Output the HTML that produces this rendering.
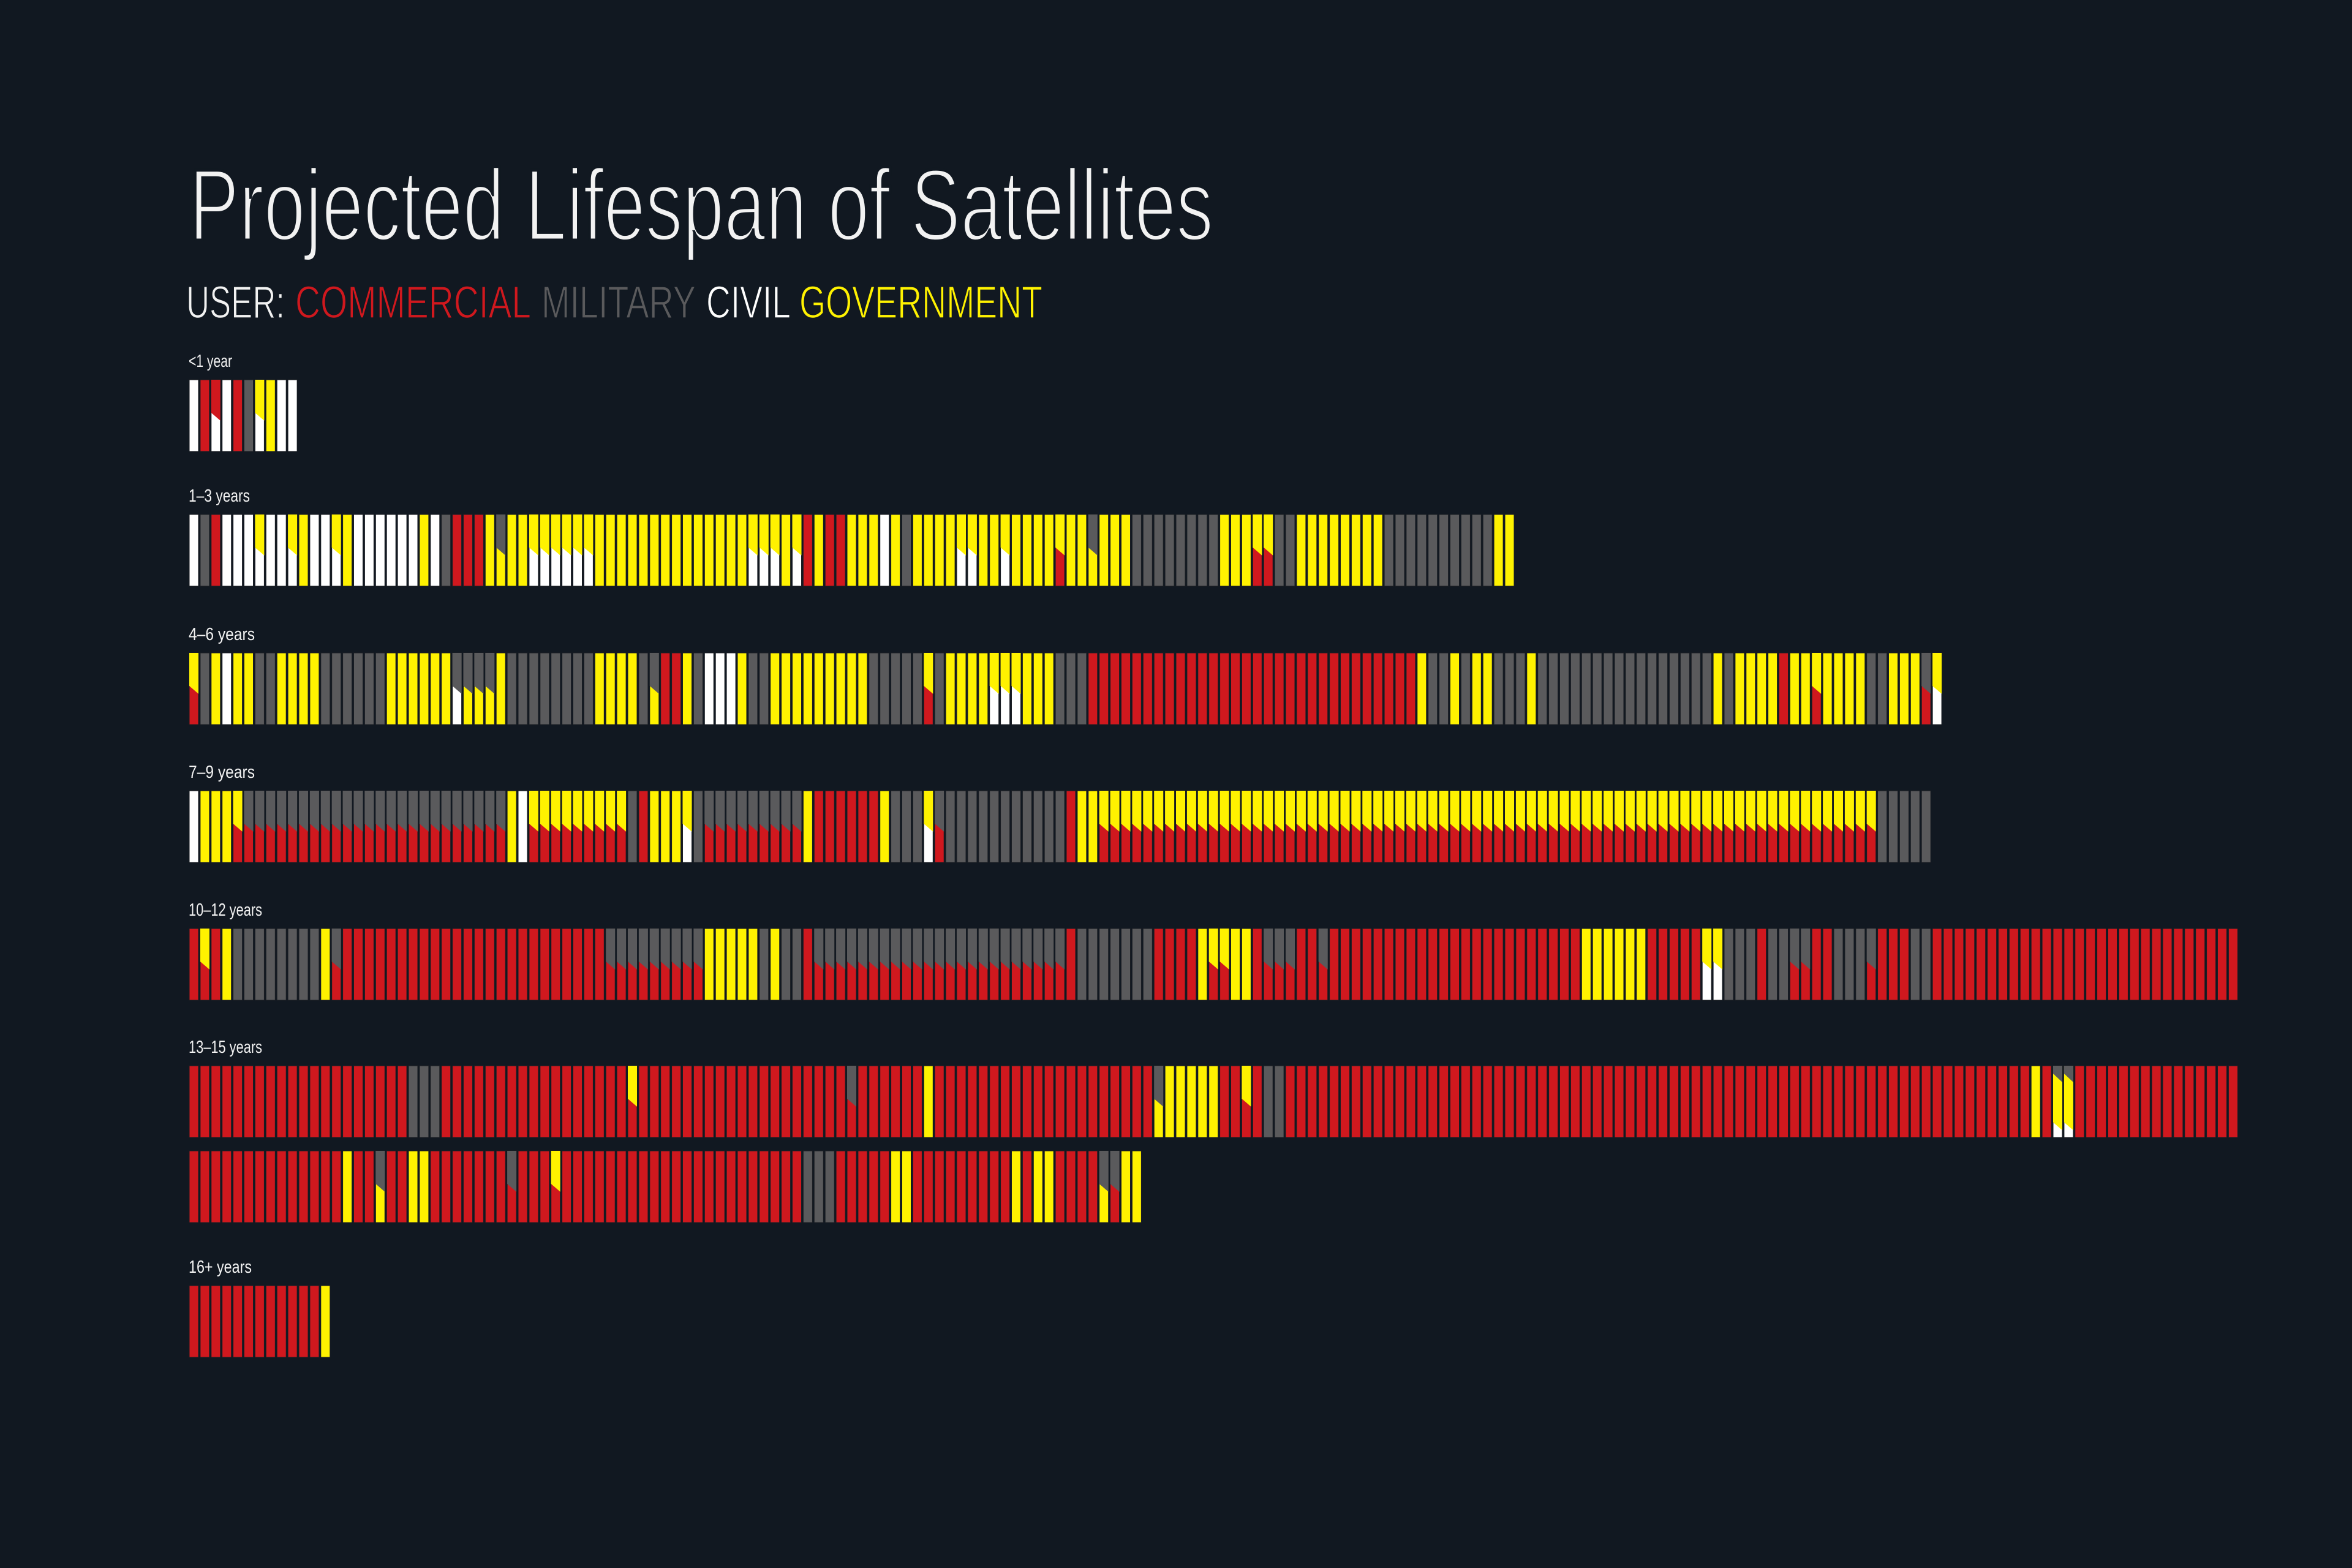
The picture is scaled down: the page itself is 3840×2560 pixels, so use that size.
<!DOCTYPE html>
<html>
<head>
<meta charset="utf-8">
<style>
  html,body{margin:0;padding:0;background:#111821;}
  svg{display:block;}
</style>
</head>
<body>
<svg id="chart" width="3840" height="2560" viewBox="0 0 3840 2560" xmlns="http://www.w3.org/2000/svg">
  <rect x="0" y="0" width="3840" height="2560" fill="#111821"/>
  <text x="309" y="392" font-family="'Liberation Sans Narrow','Liberation Sans',sans-serif" font-size="166" fill="#f2f2f2" stroke="#111821" stroke-width="5" textLength="1672" lengthAdjust="spacingAndGlyphs">Projected Lifespan of Satellites</text>
  <g font-family="'Liberation Sans Narrow','Liberation Sans',sans-serif" font-size="74" stroke="#111821" stroke-width="1.5">
    <text x="304" y="519" fill="#f2f2f2" textLength="161" lengthAdjust="spacingAndGlyphs">USER:</text>
    <text x="482" y="519" fill="#d0181e" textLength="385" lengthAdjust="spacingAndGlyphs">COMMERCIAL</text>
    <text x="884" y="519" fill="#5a5a5c" textLength="252" lengthAdjust="spacingAndGlyphs">MILITARY</text>
    <text x="1153" y="519" fill="#ffffff" textLength="138" lengthAdjust="spacingAndGlyphs">CIVIL</text>
    <text x="1305" y="519" fill="#fff200" textLength="397" lengthAdjust="spacingAndGlyphs">GOVERNMENT</text>
  </g>
  <g id="rows"></g>
</svg>
<script>
// Category labels for each row block
const rowLabels = ["<1 year","1–3 years","4–6 years","7–9 years","10–12 years","13–15 years","","16+ years"];
// Satellite user codes per row (run-length: code + count). r=commercial g=military w=civil y=government; multi-letter = shared (top→bottom)
const rowLessThan1 = "w r rw w r g yw y w w";
const row1to3 = "w g r w3 yw w2 yw y w2 yw y w6 y w g r3 y gy y2 yw6 y14 yw3 y yw r y r2 y3 w y g y4 yw2 y2 yw y4 yr y2 gy y3 g8 y3 yr2 g2 y8 g10 y2";
const row4to6 = "yr g y w y2 g2 y4 g6 y6 gw gy3 y g8 y4 g gy r2 y g w3 y g2 y9 g5 yr g y4 yw3 y3 g3 r30 y g2 y g y2 g3 y g16 y g y4 r y2 yr y4 g2 y3 gr yw";
const row7to9 = "w y3 yr gr24 y w yr9 g r y3 yw g gr9 y r6 y g3 yw gr g11 r y2 yr71 g5";
const row10to12 = "r yr r y g8 y gr r24 gr9 y5 g y g2 r gr23 r g7 r4 y yr2 y2 r gr3 r2 gr r23 y6 r5 yw2 g3 r g2 gr2 r2 g3 gr r3 g2 r28";
const row13to15 = "r20 g3 r17 yr r19 gr r6 y r20 gy y5 r2 yr r g2 r68 y r gyw2 r15";
const row13to15b = "r14 y r2 gy r2 y2 r7 gr r3 yr r22 g3 r5 y2 r9 y r y2 r4 gy gr y2";
const row16plus = "r12 y";
const rowSeries = [rowLessThan1,row1to3,row4to6,row7to9,row10to12,row13to15,row13to15b,row16plus];

const COLORS = {r:"#d0181e", g:"#5a5a5c", w:"#ffffff", y:"#fff200"};
const ROW_TOP = [620,840,1066,1291,1516,1740,1879,2099];
const LABEL_W = [71,100,108,108,120,120,0,103];
const LEFT = 309, PITCH = 17.9, BAR_W = 15, BAR_H = 117;
const xScale = i => LEFT + i*PITCH;

function expand(s){
  const out=[];
  s.trim().split(/\s+/).forEach(tok=>{
    const m = tok.match(/^([a-z]+)(\d*)$/);
    const n = m[2] ? parseInt(m[2],10) : 1;
    for(let k=0;k<n;k++) out.push(m[1]);
  });
  return out;
}

const NS="http://www.w3.org/2000/svg";
const root=document.getElementById('rows');
rowSeries.forEach((series,ri)=>{
  const top=ROW_TOP[ri];
  const g=document.createElementNS(NS,'g');
  
  
  root.appendChild(g);
  if(rowLabels[ri]){
    const t=document.createElementNS(NS,'text');
    
    
    t.setAttribute('x',LEFT-1);
    t.setAttribute('y',top-21);
    t.setAttribute('font-family',"'Liberation Sans Narrow','Liberation Sans',sans-serif");
    t.setAttribute('font-size','29');
    t.setAttribute('fill','#f2f2f2');
    t.setAttribute('textLength',LABEL_W[ri]);
    t.setAttribute('lengthAdjust','spacingAndGlyphs');
    t.textContent=rowLabels[ri];
    g.appendChild(t);
  }
  expand(series).forEach((code,i)=>{
    const x=xScale(i);
    const bg=document.createElementNS(NS,'g');
    
    
    g.appendChild(bg);
    const cs=code.split('');
    const base=document.createElementNS(NS,'rect');
    base.setAttribute('x',x); base.setAttribute('y',top);
    base.setAttribute('width',BAR_W); base.setAttribute('height',BAR_H);
    base.setAttribute('fill',COLORS[cs[cs.length-1]]);
    base.setAttribute('stroke','#1b1e24'); base.setAttribute('stroke-width','1');
    bg.appendChild(base);
    let splits;
    if(cs.length===2) splits=[[0.46,0.57]];
    else if(cs.length===3) splits=[[0.11,0.23],[0.79,0.90]];
    else splits=[];
    for(let s=splits.length-1;s>=0;s--){
      const p=document.createElementNS(NS,'polygon');
      const y1=top+BAR_H*splits[s][0], y2=top+BAR_H*splits[s][1];
      p.setAttribute('points',`${x},${top} ${x+BAR_W},${top} ${x+BAR_W},${y2} ${x},${y1}`);
      p.setAttribute('fill',COLORS[cs[s]]);
      bg.appendChild(p);
    }
  });
});
</script>
</body>
</html>
